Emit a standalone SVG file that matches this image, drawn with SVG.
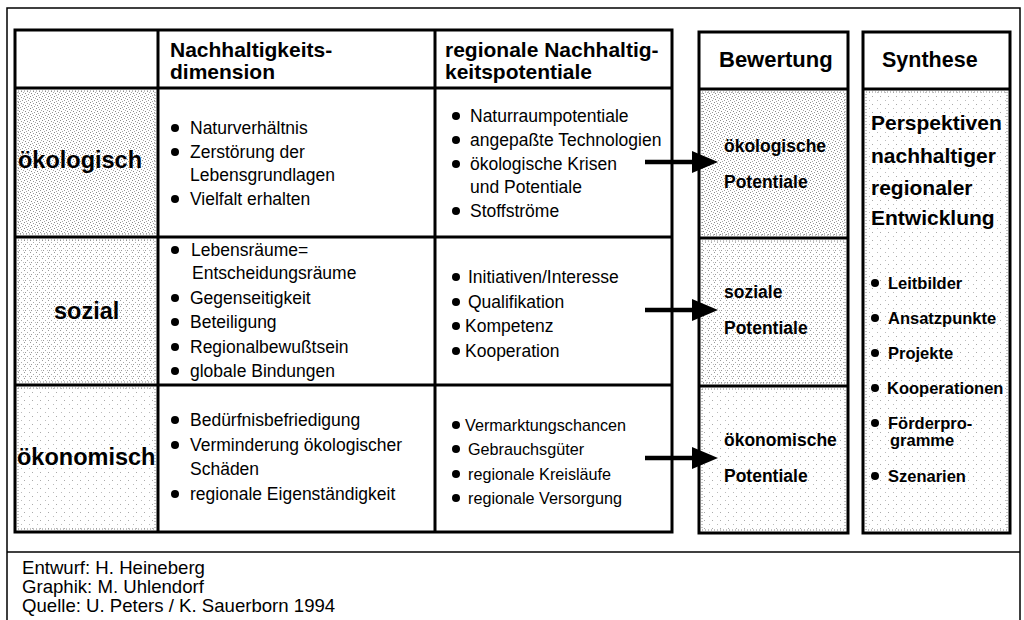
<svg xmlns="http://www.w3.org/2000/svg" width="1024" height="620" viewBox="0 0 1024 620">
<defs>
<style>
.box{fill:none;stroke:#000;stroke-width:3}
.ln{stroke:#000;stroke-width:3}
.dot{fill:none;stroke:#888;stroke-width:1;stroke-dasharray:1 2}
.h{font-family:"Liberation Sans",Arial,sans-serif;font-weight:bold;font-size:21px;fill:#000}
.rl{font-family:"Liberation Sans",Arial,sans-serif;font-weight:bold;font-size:23.5px;fill:#000}
.t{font-family:"Liberation Sans",Arial,sans-serif;font-size:17.5px;fill:#000}
.ts{font-family:"Liberation Sans",Arial,sans-serif;font-size:16.2px;fill:#000}
.bw{font-family:"Liberation Sans",Arial,sans-serif;font-weight:bold;font-size:17.5px;fill:#000}
.sy{font-family:"Liberation Sans",Arial,sans-serif;font-weight:bold;font-size:21px;fill:#000}
.sb{font-family:"Liberation Sans",Arial,sans-serif;font-weight:bold;font-size:16.5px;fill:#000}
.ft{font-family:"Liberation Sans",Arial,sans-serif;font-size:18.6px;fill:#000}
.conn line{stroke:#000;stroke-width:4.5}
.conn polygon{fill:#000}
</style>
<pattern id="pd" width="6" height="6" patternUnits="userSpaceOnUse">
<rect width="6" height="6" fill="#fff"/>
<rect x="0" y="0" width="1" height="1" fill="#888"/>
<rect x="3" y="1" width="1" height="1" fill="#999"/>
<rect x="1" y="3" width="1" height="1" fill="#888"/>
<rect x="4" y="4" width="1" height="1" fill="#999"/>
<rect x="2" y="5" width="1" height="1" fill="#aaa"/>
<rect x="5" y="2" width="1" height="1" fill="#aaa"/>
</pattern>
<pattern id="pm" width="6" height="6" patternUnits="userSpaceOnUse">
<rect width="6" height="6" fill="#fff"/>
<rect x="0" y="0" width="1" height="1" fill="#999"/>
<rect x="3" y="2" width="1" height="1" fill="#aaa"/>
<rect x="1" y="4" width="1" height="1" fill="#999"/>
<rect x="5" y="4" width="1" height="1" fill="#bbb"/>
</pattern>
<pattern id="pl" width="8" height="8" patternUnits="userSpaceOnUse">
<rect width="8" height="8" fill="#fff"/>
<rect x="0" y="0" width="1" height="1" fill="#aaa"/>
<rect x="5" y="4" width="1" height="1" fill="#bbb"/>
</pattern>
</defs>
<rect width="1024" height="620" fill="#fff"/>
<g id="frame">
<rect x="7" y="8" width="1013" height="640" fill="none" stroke="#000" stroke-width="1.5"/>
<line x1="7" y1="552" x2="1020" y2="552" stroke="#000" stroke-width="1.5"/>
</g>
<g id="main-table">
<rect x="18" y="91" width="137" height="143" fill="url(#pd)"/>
<rect x="18" y="91" width="137" height="143" class="dot"/>
<rect x="18" y="240" width="137" height="142" fill="url(#pm)"/>
<rect x="18" y="240" width="137" height="142" class="dot"/>
<rect x="18" y="388" width="137" height="141" fill="url(#pl)"/>
<rect x="18" y="388" width="137" height="141" class="dot"/>
<rect x="15" y="30" width="657" height="502" class="box"/>
<line x1="158" y1="30" x2="158" y2="532" class="ln"/>
<line x1="435" y1="30" x2="435" y2="532" class="ln"/>
<line x1="15" y1="88" x2="672" y2="88" class="ln"/>
<line x1="15" y1="237" x2="672" y2="237" class="ln"/>
<line x1="15" y1="385" x2="672" y2="385" class="ln"/>
</g>
<g id="header-dimension">
<text class="h" x="170" y="57">Nachhaltigkeits-</text>
<text class="h" x="170" y="79">dimension</text>
</g>
<g id="header-potentiale">
<text class="h" x="445" y="57">regionale Nachhaltig-</text>
<text class="h" x="445" y="79">keitspotentiale</text>
</g>
<g id="label-oekologisch"><text class="rl" x="18" y="168">ökologisch</text></g>
<g id="label-sozial"><text class="rl" x="54" y="319">sozial</text></g>
<g id="label-oekonomisch"><text class="rl" x="17" y="465">ökonomisch</text></g>
<g id="dim-oeko">
<circle cx="175" cy="128" r="4"/><text class="t" x="190" y="134">Naturverhältnis</text>
<circle cx="175" cy="152" r="4"/><text class="t" x="190" y="158">Zerstörung der</text>
<text class="t" x="190" y="181">Lebensgrundlagen</text>
<circle cx="175" cy="199" r="4"/><text class="t" x="190" y="205">Vielfalt erhalten</text>
</g>
<g id="pot-oeko">
<circle cx="456" cy="116" r="4"/><text class="t" x="470" y="122">Naturraumpotentiale</text>
<circle cx="456" cy="140" r="4"/><text class="t" x="470" y="146">angepaßte Technologien</text>
<circle cx="456" cy="164" r="4"/><text class="t" x="470" y="170">ökologische Krisen</text>
<text class="t" x="470" y="193">und Potentiale</text>
<circle cx="456" cy="211" r="4"/><text class="t" x="470" y="217">Stoffströme</text>
</g>
<g id="dim-sozial">
<circle cx="175" cy="250" r="4"/><text class="t" x="191" y="256">Lebensräume=</text>
<text class="t" x="192" y="279">Entscheidungsräume</text>
<circle cx="175" cy="298" r="4"/><text class="t" x="190" y="304">Gegenseitigkeit</text>
<circle cx="175" cy="322" r="4"/><text class="t" x="190" y="328">Beteiligung</text>
<circle cx="175" cy="347" r="4"/><text class="t" x="190" y="353">Regionalbewußtsein</text>
<circle cx="175" cy="371" r="4"/><text class="t" x="190" y="377">globale Bindungen</text>
</g>
<g id="pot-sozial">
<circle cx="456" cy="277" r="4"/><text class="t" x="468" y="283">Initiativen/Interesse</text>
<circle cx="456" cy="302" r="4"/><text class="t" x="468" y="308">Qualifikation</text>
<circle cx="456" cy="326" r="4"/><text class="t" x="465" y="332">Kompetenz</text>
<circle cx="456" cy="351" r="4"/><text class="t" x="465" y="357">Kooperation</text>
</g>
<g id="dim-oekonom">
<circle cx="175" cy="420" r="4"/><text class="t" x="190" y="426">Bedürfnisbefriedigung</text>
<circle cx="175" cy="445" r="4"/><text class="t" x="190" y="451">Verminderung ökologischer</text>
<text class="t" x="190" y="475">Schäden</text>
<circle cx="175" cy="494" r="4"/><text class="t" x="190" y="500">regionale Eigenständigkeit</text>
</g>
<g id="pot-oekonom">
<circle cx="456" cy="425" r="4"/><text class="ts" x="465" y="431">Vermarktungschancen</text>
<circle cx="456" cy="449" r="4"/><text class="ts" x="468" y="455">Gebrauchsgüter</text>
<circle cx="456" cy="474" r="4"/><text class="ts" x="468" y="480">regionale Kreisläufe</text>
<circle cx="456" cy="498" r="4"/><text class="ts" x="468" y="504">regionale Versorgung</text>
</g>
<g id="bewertung">
<rect x="702" y="92" width="143" height="143" fill="url(#pd)"/>
<rect x="702" y="92" width="143" height="143" class="dot"/>
<rect x="702" y="241" width="143" height="142" fill="url(#pm)"/>
<rect x="702" y="241" width="143" height="142" class="dot"/>
<rect x="702" y="389" width="143" height="141" fill="url(#pl)"/>
<rect x="702" y="389" width="143" height="141" class="dot"/>
<rect x="699" y="32" width="149" height="501" class="box"/>
<line x1="699" y1="89" x2="848" y2="89" class="ln"/>
<line x1="699" y1="238" x2="848" y2="238" class="ln"/>
<line x1="699" y1="386" x2="848" y2="386" class="ln"/>
<text class="h" x="719" y="67" style="font-size:22px">Bewertung</text>
<text class="bw" x="724" y="152">ökologische</text>
<text class="bw" x="724" y="188">Potentiale</text>
<text class="bw" x="724" y="298">soziale</text>
<text class="bw" x="724" y="334">Potentiale</text>
<text class="bw" x="724" y="446">ökonomische</text>
<text class="bw" x="724" y="482">Potentiale</text>
</g>
<g id="synthese">
<rect x="866" y="92" width="141" height="438" fill="url(#pl)"/>
<rect x="866" y="92" width="141" height="438" class="dot"/>
<rect x="863" y="32" width="147" height="501" class="box"/>
<line x1="863" y1="89" x2="1010" y2="89" class="ln"/>
<text class="h" x="882" y="67" style="font-size:21.5px">Synthese</text>
<text class="sy" x="871" y="130">Perspektiven</text>
<text class="sy" x="871" y="163">nachhaltiger</text>
<text class="sy" x="871" y="195">regionaler</text>
<text class="sy" x="871" y="225">Entwicklung</text>
<circle cx="875" cy="283" r="4"/><text class="sb" x="888" y="289">Leitbilder</text>
<circle cx="875" cy="318" r="4"/><text class="sb" x="888" y="324">Ansatzpunkte</text>
<circle cx="875" cy="353" r="4"/><text class="sb" x="888" y="359">Projekte</text>
<circle cx="875" cy="388" r="4"/><text class="sb" x="887" y="394">Kooperationen</text>
<circle cx="875" cy="423" r="4"/><text class="sb" x="888" y="429">Förderpro-</text>
<text class="sb" x="890" y="446">gramme</text>
<circle cx="875" cy="476" r="4"/><text class="sb" x="888" y="482">Szenarien</text>
</g>
<g id="connectors" class="conn">
<line x1="645" y1="162" x2="694" y2="162"/><polygon points="692,151 718,162 692,173"/>
<line x1="645" y1="310" x2="694" y2="310"/><polygon points="692,299 718,310 692,321"/>
<line x1="645" y1="458" x2="694" y2="458"/><polygon points="692,447 718,458 692,469"/>
</g>
<g id="credits">
<text class="ft" x="22" y="574">Entwurf: H. Heineberg</text>
<text class="ft" x="22" y="593">Graphik: M. Uhlendorf</text>
<text class="ft" x="22" y="612">Quelle: U. Peters / K. Sauerborn 1994</text>
</g>
</svg>
